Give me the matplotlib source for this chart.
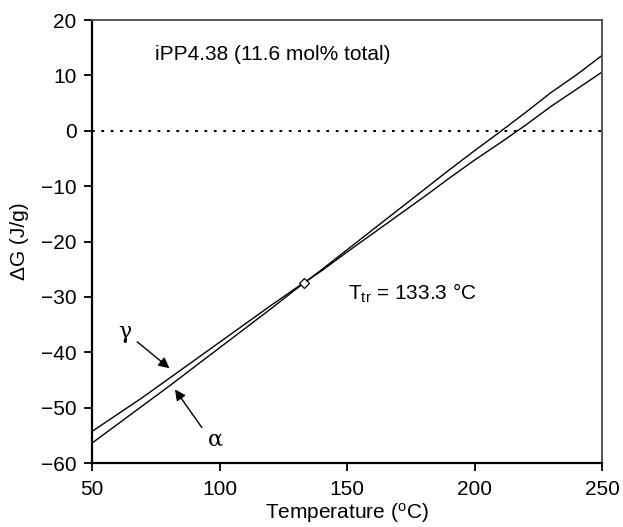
import numpy as np
import matplotlib.pyplot as plt

plt.rcParams['font.family'] = ['Liberation Sans', 'DejaVu Sans']
plt.rcParams['mathtext.fontset'] = 'custom'
plt.rcParams['mathtext.rm'] = 'Liberation Sans'
plt.rcParams['mathtext.it'] = 'Liberation Sans'

# temperature grid (C)
temp = [50, 60, 70, 80, 90, 100, 110, 120, 130, 140, 150,
        160, 170, 180, 190, 200, 210, 220, 230, 240, 250]
# free energy difference (J/g)
dg_gamma = [-54.3, -51.2, -48.1, -44.8, -41.5, -38.2, -34.9, -31.6, -28.4, -25.3, -21.9,
            -18.6, -15.3, -12.0, -8.6, -5.3, -2.2, 1.0, 4.4, 7.5, 10.6]
dg_alpha = [-56.4, -53.0, -49.6, -46.2, -42.7, -39.2, -35.7, -32.2, -28.6, -25.1, -21.5,
            -17.9, -14.3, -10.7, -7.1, -3.6, -0.2, 3.3, 6.9, 10.1, 13.6]
t_tr = 133.3
dg_tr = -27.5

fig = plt.figure(figsize=(6.23, 5.27), dpi=100)
ax = fig.add_axes([0.1477, 0.1214, 0.8186, 0.8406])

ax.axhline(0, color='black', lw=1.5, linestyle=(0, (1.3, 3.2)))
ax.plot(temp, dg_gamma, color='black', lw=1.0)
ax.plot(temp, dg_alpha, color='black', lw=1.0)
ax.plot([t_tr], [dg_tr], marker='D', ms=5.5, mfc='white', mec='black', mew=0.9)

ax.set_xlim(50, 250)
ax.set_ylim(-60, 20)
ax.set_xticks([50, 100, 150, 200, 250])
ax.set_yticks(np.arange(-60, 21, 10))
ax.set_yticklabels([str(v).replace('-', '\u2212') for v in range(-60, 21, 10)])

for s in ['left', 'bottom']:
    ax.spines[s].set_linewidth(1.6)
for s in ['top', 'right']:
    ax.spines[s].set_color('#555555')
    ax.spines[s].set_linewidth(1.4)
ax.tick_params(axis='both', direction='out', length=6, width=1.3, labelsize=15,
               top=False, right=False)
ax.tick_params(axis='x', pad=6)
ax.tick_params(axis='y', pad=5)

ax.set_xlabel('Temperature ($^{\\rm o}$C)', fontsize=15, labelpad=2)
ax.set_ylabel('\u0394G (J/g)', fontsize=15, labelpad=9)

ax.text(74.7, 13.7, 'iPP4.38 (11.6 mol% total)', fontsize=15, va='center')
ax.text(150.5, -29.3, 'T$_{\\rm tr}$ = 133.3 \u00b0C', fontsize=15, va='center')

ax.text(62.9, -36.3, '\u03b3', fontsize=16, ha='center', va='center', family='DejaVu Serif')
ax.annotate('', xy=(81.2, -43.2), xytext=(66.9, -37.8),
            arrowprops=dict(arrowstyle='-|>', color='black', lw=1.0, mutation_scale=16))
ax.text(98.2, -55.8, '\u03b1', fontsize=16, ha='center', va='center', family='DejaVu Serif')
ax.annotate('', xy=(81.9, -46.3), xytext=(93.7, -54.0),
            arrowprops=dict(arrowstyle='-|>', color='black', lw=1.0, mutation_scale=16))

fig.savefig('out.png', dpi=100)
